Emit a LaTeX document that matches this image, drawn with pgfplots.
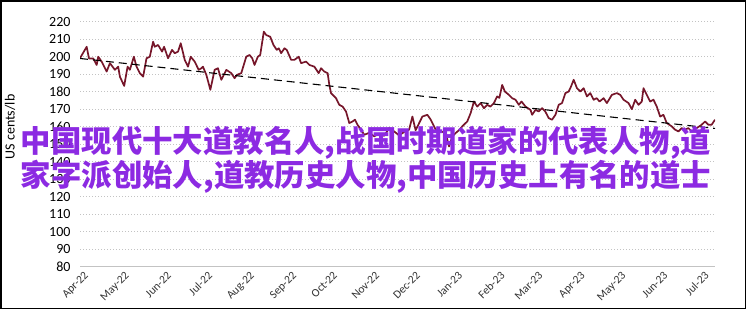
\documentclass[border=0pt]{standalone}
\usepackage{pgfplots}
\pgfplotsset{compat=1.18}
\usepackage{fontspec}
\setmainfont{Carlito}
\newfontfamily\cjk{Noto Sans CJK SC}
\definecolor{linecol}{RGB}{118,22,42}
\definecolor{wmcol}{RGB}{140,42,226}
\definecolor{gridcol}{RGB}{195,195,195}
\begin{document}
\begin{tikzpicture}[x=1pt,y=1pt]
\useasboundingbox (0,0) rectangle (746,309);
\begin{axis}[
  at={(80pt,42.3pt)}, anchor=south west,
  scale only axis, width=635pt, height=245pt,
  xmin=0, xmax=636.7, ymin=80, ymax=220,
  ytick={80,90,...,220},
  xtick={0,40.9,83.2,124.1,166.4,208.7,249.6,291.9,332.8,375.1,417.4,455.6,497.9,538.9,581.1,622.0},
  xticklabels={Apr-22,May-22,Jun-22,Jul-22,Aug-22,Sep-22,Oct-22,Nov-22,Dec-22,Jan-23,Feb-23,Mar-23,Apr-23,May-23,Jun-23,Jul-23},
  xticklabel style={rotate=45, anchor=north east, font=\fontsize{11.5}{12}\selectfont, text=black!80, xshift=3pt, yshift=-2pt},
  yticklabel style={font=\fontsize{14}{15}\selectfont, xshift=-6pt},
  /pgf/number format/assume math mode=true,
  major tick length=0pt,
  axis x line*=bottom, axis y line*=left,
  x axis line style={draw=gridcol, line width=0.8pt, -},
  y axis line style={draw=none},
  ymajorgrids,
  major grid style={draw=gridcol, line width=0.9pt, dash pattern=on 1pt off 2pt},
  ylabel={US cents/lb},
  ylabel style={at={(axis description cs:-0.110,0.57)}, anchor=center, font=\fontsize{14}{15}\selectfont},
]
\addplot[linecol, line width=1.7pt, line join=round] coordinates {
(0,199.1) (6.7,205.7) (9,199) (13.3,199) (16.7,195.3) (18.3,200) (21.7,197.2) (26.7,191.5) (30,196.3) (35,192.5)
(38.3,194.3) (40,188.6) (44.3,183.3) (47.7,194.3) (50,192.5) (54,200) (56.7,194.3) (60,190.6) (63.3,188.6) (66.7,199.1)
(70,200) (73.3,208.6) (75,205.7) (78.3,206.7) (82.3,202.9) (84.3,205.7) (88.3,199.1) (92.3,203.9) (95,202) (98.3,202.9)
(101,207.7) (105,198.2) (108.3,194.3) (111,200) (115,197.2) (119,192.5) (121.7,193.4) (123.3,194.3) (126.7,189.6) (130.7,181.1)
(135,192.5) (138.3,193.4) (141.7,186.8) (146.7,192.5) (151.7,190.6) (155,187.7) (157.3,189.6) (161.7,190.6) (166.7,200) (170,201)
(172.7,199.1) (175,195.3) (178.3,200) (180.7,201) (184.3,214.3) (186.7,212.4) (190.7,211.4) (194,206.7) (197.3,203.9) (199.3,204.8)
(201.7,202) (205,204.8) (207.3,203.9) (211.7,198.2) (215,198.2) (219.3,200) (221.7,196.3) (226.7,197.2) (230,195.3) (235,194.3)
(239.3,190.6) (241.7,193.4) (245,191.5) (248.3,190.6) (250,183.9) (251.7,179.2) (256.7,176.3) (260,172.5) (263.3,171.5) (266.7,168.7)
(270,162.1) (273.3,163) (275.7,164) (278.3,161.1) (282,158) (285,155.4) (290,156.5) (295,154.5) (300,156) (305,154.8)
(310,159.2) (315,157.3) (320,155) (325,157) (330,158.3) (333.3,165.8) (336.5,158) (340,162) (343.3,165.8) (348.3,166.8)
(351.7,164) (356.7,158.3) (361,157.5) (366.7,156.4) (370,148.7) (373.3,154.4) (376.7,156.4) (380,158) (383.3,160.2) (388.3,163)
(391.7,167.8) (395,174.4) (398.3,171.5) (401.7,173.5) (405,170.6) (408.3,172.5) (411.5,171.5) (415,173.5) (418.3,177.3) (420.5,176.5)
(423.3,183.9) (426,180.1) (430,178.2) (433.3,176.3) (436.7,175.4) (440,172.5) (442.7,174.4) (446.7,171.5) (451.7,169.6) (453.3,166.8)
(456.7,169.6) (460,168.7) (463.3,170.6) (466.5,168.7) (470,164.9) (473.3,164) (476.7,166.8) (480,172.5) (483.3,173.5) (486.7,179.2)
(490,180.1) (492,182.5) (495,186.8) (498.3,182) (501.7,180.1) (505,182) (508.3,177.3) (511.7,179.2) (515,175.4) (518,176.3)
(521,174.4) (525,176.3) (528.3,173.5) (533.3,178.2) (538.3,179.2) (541.7,178.2) (545,175.4) (550,173.5) (553.3,170) (556.7,175.4)
(560,172.5) (563.3,174.4) (565,182) (568.3,178.2) (571.7,174.4) (575,175.4) (578.3,171.5) (581.7,165.8) (585,166.8) (588.3,162.1)
(593.3,160.2) (596.7,158.3) (600,157.3) (603.3,159.2) (606.7,158.3) (610,159.2) (613.3,157.3) (618.3,159.2) (623.3,161.1) (626.7,163)
(630,161.1) (633.3,161.1) (636.7,164)
};
\addplot[black, line width=1.1pt, dash pattern=on 8pt off 5pt] coordinates {(0,199) (636.7,159)};
\end{axis}
\node[text=wmcol, font=\cjk\bfseries\fontsize{30.4}{33}\selectfont, align=center, inner sep=0pt] at (366,149) {中国现代十大道教名人,战国时期道家的代表人物,道\\家字派创始人,道教历史人物,中国历史上有名的道士};
\draw[black, line width=1.5pt] (0.75,0.75) rectangle (745.25,308.25);
\end{tikzpicture}
\end{document}
